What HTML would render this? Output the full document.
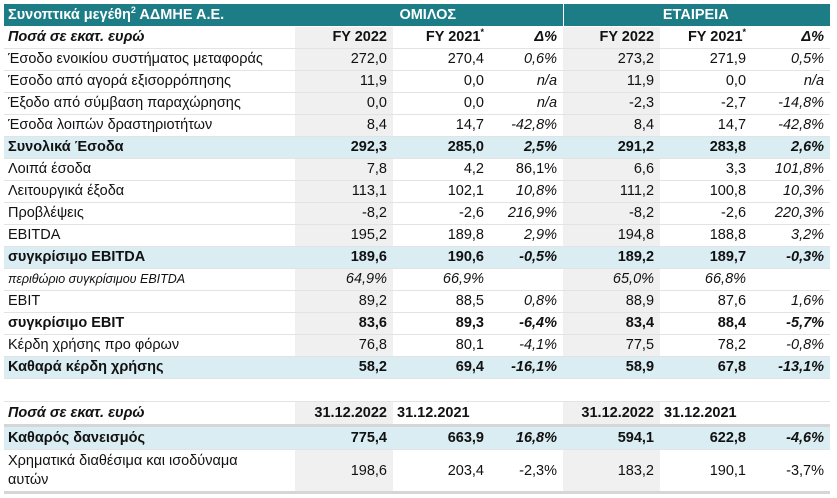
<!DOCTYPE html>
<html><head><meta charset="utf-8"><style>
body{margin:0;background:#fff;width:837px;height:498px;overflow:hidden;font-family:"Liberation Sans","DejaVu Sans",sans-serif;color:#111;}
table{position:absolute;left:4px;border-collapse:collapse;table-layout:fixed;width:826px;font-size:14.5px;}
td{height:21px;box-sizing:border-box;padding:0 6px 0 4px;border-bottom:1px solid #e3e3e3;text-align:right;white-space:nowrap;overflow:hidden;line-height:20px;}
tr{height:22px;}
td:first-child{text-align:left;}
td.g{background:#f0f0f0;}
tr.h td{background:#1c7d86;color:#fff;font-weight:bold;border-bottom:1px solid #fff;text-align:center;}
tr.h td:first-child{text-align:left;}
tr.b td{background:#daedf3;font-weight:bold;}
tr.b td.i,td.i{font-style:italic;}
tr.s td{font-weight:bold;}
tr.s td.i{font-style:italic;}
.sm{font-size:12.5px;}
sup{font-size:9px;line-height:0;}
.bb{border-bottom:3px solid #d6d6d6;}
</style></head><body>
<table style="top:4px">
<colgroup><col style="width:291px"><col style="width:98px"><col style="width:97px"><col style="width:73px"><col style="width:97px"><col style="width:92px"><col style="width:78px"></colgroup>
<tr class="h"><td>Συνοπτικά μεγέθη<sup>2</sup> ΑΔΜΗΕ Α.Ε.</td><td colspan="3" style="border-right:1px solid #fff">ΟΜΙΛΟΣ</td><td colspan="3">ΕΤΑΙΡΕΙΑ</td></tr>
<tr class="s"><td class="i">Ποσά σε εκατ. ευρώ</td><td class="g">FY 2022</td><td>FY 2021<sup>*</sup></td><td class="i">Δ%</td><td class="g">FY 2022</td><td>FY 2021<sup>*</sup></td><td class="i">Δ%</td></tr>
<tr><td>Έσοδο ενοικίου συστήματος μεταφοράς</td><td class="g">272,0</td><td>270,4</td><td class="i">0,6%</td><td class="g">273,2</td><td>271,9</td><td class="i">0,5%</td></tr>
<tr><td>Έσοδο από αγορά εξισορρόπησης</td><td class="g">11,9</td><td>0,0</td><td class="i">n/a</td><td class="g">11,9</td><td>0,0</td><td class="i">n/a</td></tr>
<tr><td>Έξοδο από σύμβαση παραχώρησης</td><td class="g">0,0</td><td>0,0</td><td class="i">n/a</td><td class="g">-2,3</td><td>-2,7</td><td class="i">-14,8%</td></tr>
<tr><td>Έσοδα λοιπών δραστηριοτήτων</td><td class="g">8,4</td><td>14,7</td><td class="i">-42,8%</td><td class="g">8,4</td><td>14,7</td><td class="i">-42,8%</td></tr>
<tr class="b"><td>Συνολικά Έσοδα</td><td>292,3</td><td>285,0</td><td class="i">2,5%</td><td>291,2</td><td>283,8</td><td class="i">2,6%</td></tr>
<tr><td>Λοιπά έσοδα</td><td class="g">7,8</td><td>4,2</td><td>86,1%</td><td class="g">6,6</td><td>3,3</td><td class="i">101,8%</td></tr>
<tr><td>Λειτουργικά έξοδα</td><td class="g">113,1</td><td>102,1</td><td class="i">10,8%</td><td class="g">111,2</td><td>100,8</td><td class="i">10,3%</td></tr>
<tr><td>Προβλέψεις</td><td class="g">-8,2</td><td>-2,6</td><td class="i">216,9%</td><td class="g">-8,2</td><td>-2,6</td><td class="i">220,3%</td></tr>
<tr><td>EBITDA</td><td class="g">195,2</td><td>189,8</td><td class="i">2,9%</td><td class="g">194,8</td><td>188,8</td><td class="i">3,2%</td></tr>
<tr class="b"><td>συγκρίσιμο EBITDA</td><td>189,6</td><td>190,6</td><td class="i">-0,5%</td><td>189,2</td><td>189,7</td><td class="i">-0,3%</td></tr>
<tr><td class="i sm">περιθώριο συγκρίσιμου EBITDA</td><td class="g i">64,9%</td><td class="i">66,9%</td><td></td><td class="g i">65,0%</td><td class="i">66,8%</td><td></td></tr>
<tr><td>EBIT</td><td class="g">89,2</td><td>88,5</td><td class="i">0,8%</td><td class="g">88,9</td><td>87,6</td><td class="i">1,6%</td></tr>
<tr class="s"><td>συγκρίσιμο EBIT</td><td class="g">83,6</td><td>89,3</td><td class="i">-6,4%</td><td class="g">83,4</td><td>88,4</td><td class="i">-5,7%</td></tr>
<tr><td>Κέρδη χρήσης προ φόρων</td><td class="g">76,8</td><td>80,1</td><td class="i">-4,1%</td><td class="g">77,5</td><td>78,2</td><td class="i">-0,8%</td></tr>
<tr class="b"><td>Καθαρά κέρδη χρήσης</td><td>58,2</td><td>69,4</td><td class="i">-16,1%</td><td>58,9</td><td>67,8</td><td class="i">-13,1%</td></tr>
</table>
<table style="top:401px;border-top:1px solid #e3e3e3">
<colgroup><col style="width:291px"><col style="width:98px"><col style="width:97px"><col style="width:73px"><col style="width:97px"><col style="width:92px"><col style="width:78px"></colgroup>
<tr class="s" style="height:24px"><td class="i bb">Ποσά σε εκατ. ευρώ</td><td class="g bb">31.12.2022</td><td class="bb" style="text-align:left">31.12.2021</td><td class="bb"></td><td class="g bb">31.12.2022</td><td class="bb" style="text-align:left">31.12.2021</td><td class="bb"></td></tr>
<tr class="b" style="height:24px"><td>Καθαρός δανεισμός</td><td>775,4</td><td>663,9</td><td class="i">16,8%</td><td>594,1</td><td>622,8</td><td class="i">-4,6%</td></tr>
<tr style="height:43px"><td class="bb" style="white-space:normal;line-height:19px;height:43px"><div style="width:260px">Χρηματικά διαθέσιμα και ισοδύναμα αυτών</div></td><td class="g bb">198,6</td><td class="bb">203,4</td><td class="bb">-2,3%</td><td class="g bb">183,2</td><td class="bb">190,1</td><td class="bb">-3,7%</td></tr>
</table>
</body></html>
